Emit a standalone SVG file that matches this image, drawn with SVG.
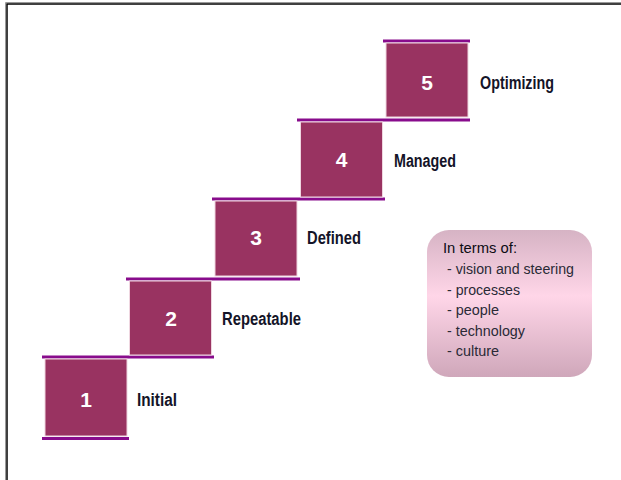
<svg xmlns="http://www.w3.org/2000/svg" width="621" height="480" viewBox="0 0 621 480">
  <defs>
    <linearGradient id="pinkFill" x1="0" y1="0" x2="0" y2="1">
      <stop offset="0" stop-color="#d6b3c4"/>
      <stop offset="0.45" stop-color="#ffd6e8"/>
      <stop offset="1" stop-color="#cfa7ba"/>
    </linearGradient>
    <style>
      .box { fill: #993361; stroke: #efd6e0; stroke-width: 1; }
      .num { font-family: "Liberation Sans", Arial, sans-serif; font-weight: bold; font-size: 21px; fill: #ffffff; text-anchor: middle; }
      .lbl { font-family: "Liberation Sans Narrow", "Liberation Sans", Arial, sans-serif; font-weight: bold; font-size: 17.5px; fill: #141428; }
      .tread { stroke: #880c8c; stroke-width: 3; fill: none; }
      .note { font-family: "Liberation Sans Narrow", "Liberation Sans", Arial, sans-serif; font-size: 15.5px; fill: #2a2a36; }
    </style>
  </defs>

  <rect width="621" height="480" fill="#ffffff"/>

  <!-- page frame -->
  <path d="M5.5,480 V2.5 H621" stroke="#9a9a9a" stroke-width="1" fill="none"/>
  <path d="M7,480 V4 H621" stroke="#000000" stroke-width="1.5" fill="none"/>

  <!-- stair treads -->
  <g id="treads">
    <line class="tread" x1="42" y1="438.5" x2="129" y2="438.5"/>
    <line class="tread" x1="42" y1="357" x2="214" y2="357"/>
    <line class="tread" x1="126" y1="279" x2="300" y2="279"/>
    <line class="tread" x1="212" y1="199" x2="385" y2="199"/>
    <line class="tread" x1="297" y1="120" x2="470" y2="120"/>
    <line class="tread" x1="383" y1="41" x2="470" y2="41"/>
  </g>

  <g id="step-1">
    <rect class="box" x="45" y="359" width="82" height="77"/>
    <text class="num" x="86" y="406.5">1</text>
    <text class="lbl" x="137" y="405.5" textLength="40" lengthAdjust="spacingAndGlyphs">Initial</text>
  </g>

  <g id="step-2">
    <rect class="box" x="129.5" y="281" width="82" height="74"/>
    <text class="num" x="171" y="326">2</text>
    <text class="lbl" x="222" y="325" textLength="79" lengthAdjust="spacingAndGlyphs">Repeatable</text>
  </g>

  <g id="step-3">
    <rect class="box" x="215" y="201" width="82" height="75"/>
    <text class="num" x="256" y="245">3</text>
    <text class="lbl" x="307" y="243.5" textLength="54" lengthAdjust="spacingAndGlyphs">Defined</text>
  </g>

  <g id="step-4">
    <rect class="box" x="300.5" y="122" width="82" height="75"/>
    <text class="num" x="341.5" y="167">4</text>
    <text class="lbl" x="394" y="166.5" textLength="62" lengthAdjust="spacingAndGlyphs">Managed</text>
  </g>

  <g id="step-5">
    <rect class="box" x="386" y="43" width="82" height="74"/>
    <text class="num" x="427" y="89.5">5</text>
    <text class="lbl" x="480" y="89" textLength="74" lengthAdjust="spacingAndGlyphs">Optimizing</text>
  </g>

  <!-- scope note -->
  <g id="aspects">
    <rect x="427" y="230" width="165" height="147" rx="22" ry="22" fill="url(#pinkFill)"/>
    <text class="note" x="443" y="252.5" style="fill:#0c0c14" textLength="74" lengthAdjust="spacingAndGlyphs">In terms of:</text>
    <text class="note" x="447" y="274" textLength="127" lengthAdjust="spacingAndGlyphs">- vision and steering</text>
    <text class="note" x="447" y="294.5" textLength="73" lengthAdjust="spacingAndGlyphs">- processes</text>
    <text class="note" x="447" y="315" textLength="52" lengthAdjust="spacingAndGlyphs">- people</text>
    <text class="note" x="447" y="335.5" textLength="78" lengthAdjust="spacingAndGlyphs">- technology</text>
    <text class="note" x="447" y="356" textLength="52" lengthAdjust="spacingAndGlyphs">- culture</text>
  </g>
</svg>
